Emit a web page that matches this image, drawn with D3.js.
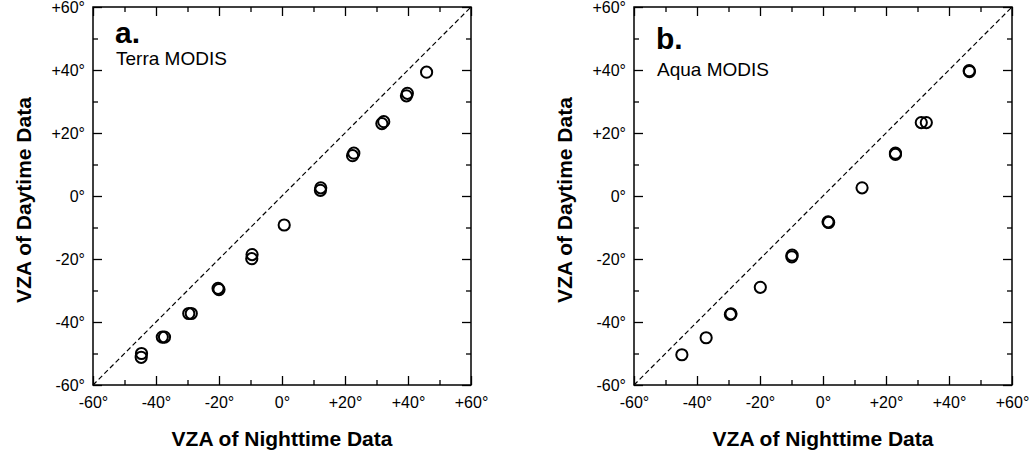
<!DOCTYPE html>
<html>
<head>
<meta charset="utf-8">
<script src="https://cdn.jsdelivr.net/npm/d3@7"></script>
<style>
  html, body { margin: 0; padding: 0; background: #fff; }
  svg { display: block; font-family: "Liberation Sans", Arial, Helvetica, sans-serif; }
</style>
</head>
<body>
<svg id="chart" width="1029" height="458"></svg>
<script>
// ---- data (VZA of nighttime data vs VZA of daytime data, degrees) ----
const terraNight = [45.9, 39.5, 39.8, 31.7, 32.3, 22.4, 22.8, 12.2, 12.3, 0.7, -9.5, -9.6, -20.3, -20.0, -29.6, -28.8, -38.0, -37.3, -44.6, -44.7];
const terraDay   = [39.3, 31.8, 32.6, 23.0, 23.6, 12.8, 13.6, 1.8, 2.6, -9.2, -18.6, -19.9, -29.3, -29.7, -37.3, -37.3, -44.8, -44.8, -50.0, -51.2];
const aquaNight  = [46.4, 46.5, 31.2, 32.8, 23.0, 23.0, 12.4, 1.8, 1.6, -9.8, -9.9, -19.9, -29.4, -29.2, -37.1, -44.8];
const aquaDay    = [39.8, 39.5, 23.3, 23.3, 13.6, 13.2, 2.6, -8.4, -8.2, -18.8, -19.3, -29.0, -37.6, -37.4, -45.0, -50.4];
const axisDomain = [-60, 60];
const majorTicks = [-60, -40, -20, 0, 20, 40, 60];
const minorTicks = [-50, -30, -10, 10, 30, 50];
const panelLetters = ["a.", "b."];
const panelNames = ["Terra MODIS", "Aqua MODIS"];
const xTitle = "VZA of Nighttime Data";
const yTitle = "VZA of Daytime Data";

const fmt = v => (v > 0 ? "+" + v : "" + v) + "\u00B0";

const svg = d3.select("#chart");

const panels = [
  { left: 93, night: terraNight, day: terraDay, letter: panelLetters[0], name: panelNames[0], letterY: 43, nameY: 65 },
  { left: 634, night: aquaNight, day: aquaDay, letter: panelLetters[1], name: panelNames[1], letterY: 49, nameY: 76 }
];
const plotTop = 7, plotSize = 378;

panels.forEach(p => {
  const x = d3.scaleLinear().domain(axisDomain).range([p.left, p.left + plotSize]);
  const y = d3.scaleLinear().domain(axisDomain).range([plotTop + plotSize, plotTop]);
  const g = svg.append("g");

  // diagonal 1:1 line
  g.append("line")
    .attr("x1", x(axisDomain[0])).attr("y1", y(axisDomain[0]))
    .attr("x2", x(axisDomain[1])).attr("y2", y(axisDomain[1]))
    .attr("stroke", "#000").attr("stroke-width", 1.2)
    .attr("stroke-dasharray", "5,3");

  const mk = (axisFn, scale, ticks, len, labels, pad) =>
    axisFn(scale).tickValues(ticks).tickSize(-len).tickPadding(pad)
      .tickFormat(labels ? fmt : () => "");

  const addAxis = (axis, transform) => {
    const a = g.append("g").attr("transform", transform).call(axis);
    a.select(".domain").remove();
    a.selectAll(".tick line").attr("stroke", "#000").attr("stroke-width", 1.3);
    a.selectAll(".tick text").attr("fill", "#000").style("font-size", "16px")
      .style("font-family", "'Liberation Sans', Arial, sans-serif");
    return a;
  };

  const bottom = plotTop + plotSize, right = p.left + plotSize;
  addAxis(mk(d3.axisBottom, x, minorTicks, 5, false, 0), `translate(0,${bottom})`);
  addAxis(mk(d3.axisBottom, x, majorTicks, 9, true, 12), `translate(0,${bottom})`);
  addAxis(mk(d3.axisTop, x, minorTicks, 5, false, 0), `translate(0,${plotTop})`);
  addAxis(mk(d3.axisTop, x, majorTicks, 9, false, 0), `translate(0,${plotTop})`);
  addAxis(mk(d3.axisLeft, y, minorTicks, 5, false, 0), `translate(${p.left},0)`);
  addAxis(mk(d3.axisLeft, y, majorTicks, 9, true, 8), `translate(${p.left},0)`);
  addAxis(mk(d3.axisRight, y, minorTicks, 5, false, 0), `translate(${right},0)`);
  addAxis(mk(d3.axisRight, y, majorTicks, 9, false, 0), `translate(${right},0)`);

  // frame
  g.append("rect")
    .attr("x", p.left).attr("y", plotTop).attr("width", plotSize).attr("height", plotSize)
    .attr("fill", "none").attr("stroke", "#000").attr("stroke-width", 1.5);

  // points
  const pts = p.night.map((v, i) => ({ n: v, d: p.day[i] }));
  g.selectAll("circle.pt").data(pts).enter().append("circle")
    .attr("class", "pt")
    .attr("cx", d => x(d.n)).attr("cy", d => y(d.d))
    .attr("r", 5.6)
    .attr("fill", "none").attr("stroke", "#000").attr("stroke-width", 2);

  // panel labels
  g.append("text").attr("x", p.left + 22).attr("y", p.letterY)
    .style("font-size", "30px").style("font-weight", "bold").text(p.letter);
  g.append("text").attr("x", p.left + 23).attr("y", p.nameY)
    .style("font-size", "19px").text(p.name);

  // axis titles
  g.append("text").attr("x", p.left + plotSize / 2).attr("y", 446)
    .attr("text-anchor", "middle")
    .style("font-size", "21px").style("font-weight", "bold").text(xTitle);
  g.append("text")
    .attr("transform", `translate(${p.left - 62},${plotTop + plotSize / 2 + 4}) rotate(-90)`)
    .attr("text-anchor", "middle")
    .style("font-size", "21px").style("font-weight", "bold").text(yTitle);
});
</script>
</body>
</html>
